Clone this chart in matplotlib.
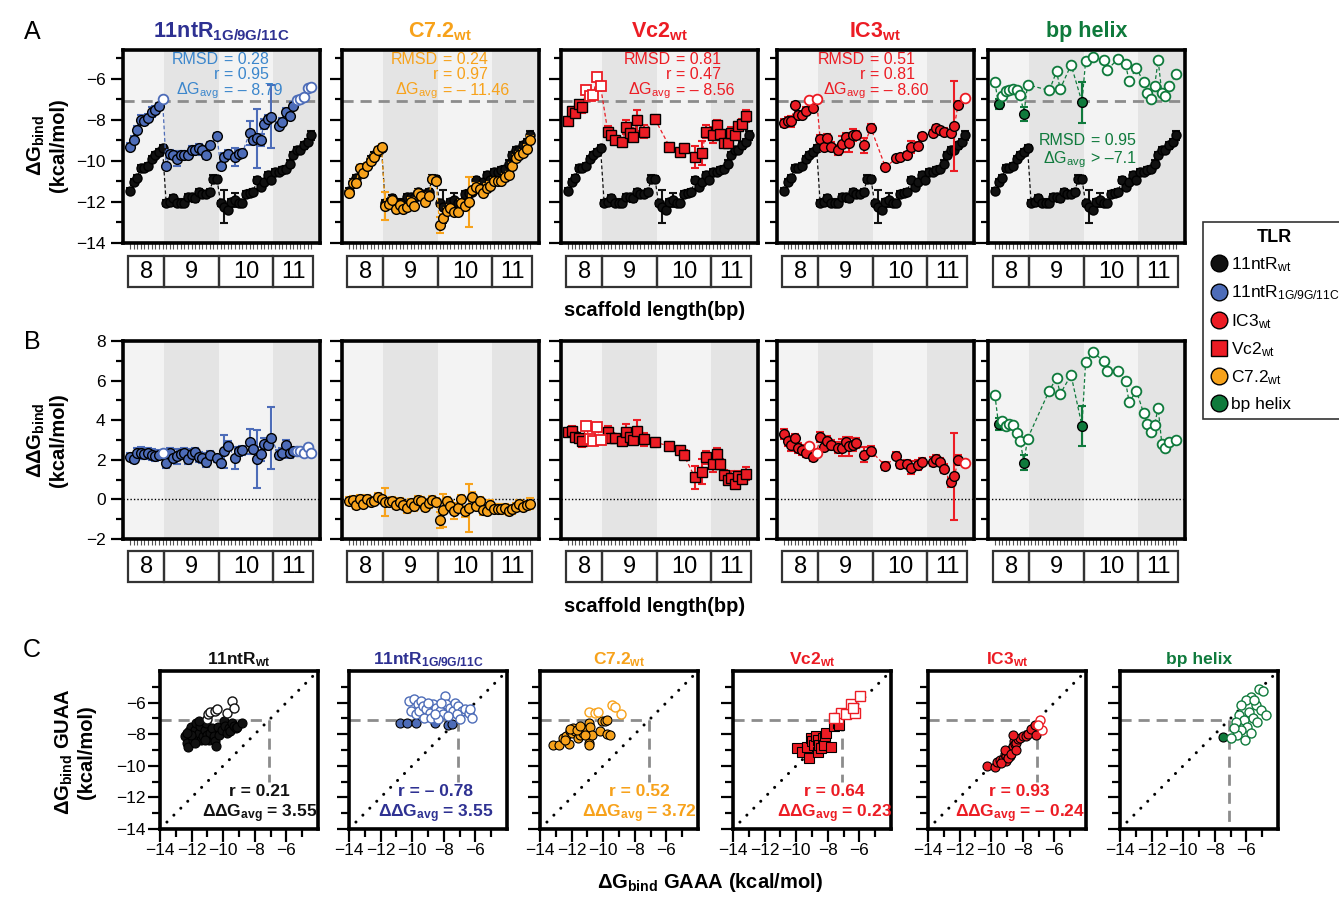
import numpy as np
import matplotlib
matplotlib.use('Agg')
import matplotlib.pyplot as plt
from matplotlib.patches import Rectangle
from matplotlib.lines import Line2D

plt.rcParams['font.family'] = ['Liberation Sans', 'DejaVu Sans']
plt.rcParams['mathtext.fontset'] = 'custom'
plt.rcParams['mathtext.rm'] = 'Liberation Sans'
plt.rcParams['mathtext.it'] = 'Liberation Sans:italic'
plt.rcParams['mathtext.bf'] = 'Liberation Sans:bold'

nan = np.nan
THRESH = -7.1

# ---------------- data: panel A (dG_bind, GAAA) per scaffold variant ----------------
scaffold_lengths = ['8', '9', '10', '11']
variants_per_length = [10, 15, 15, 11]

dG_11ntR_wt = [
    -11.46, -11.02, -10.83, -10.35, -10.35, -10.27, -9.89, -9.73, -9.57, -9.36,
    -12.07, -11.99, -11.83, -12.07, -12.03, -12.07, -11.78, -11.78, -11.83, -11.50, -11.60, -11.60, -11.50, -10.86, -10.86,
    -12.07, -12.24, -12.37, -11.99, -11.90, -12.07, -12.07, -11.60, -11.57, -11.50, -10.94, -11.27, -11.02, -10.70, -10.94,
    -10.54, -10.54, -10.46, -10.38, -10.13, -9.73, -9.49, -9.46, -9.25, -9.10, -8.76]
err_11ntR_wt = [
    .12, .15, .15, .15, .15, .15, .15, .15, .15, .15,
    .15, .12, .15, .15, .15, .12, .15, .15, .15, .15, .15, .15, .15, .15, .12,
    .12, .80, .15, .15, .35, .15, .15, .15, .15, .15, .15, .15, .15, .15, .15,
    .15, .15, .15, .15, .15, .15, .15, .15, .15, .15, .20]

dG_11ntR_mut = [
    -9.30, -8.96, -8.49, -8.00, -8.04, -7.92, -7.63, -7.52, -7.31, -7.00,
    -10.25, -9.65, -9.73, -9.89, -9.73, -9.73, -9.73, -9.49, -9.46, -9.36, -9.49, -9.73, -9.25, nan, -8.79,
    -10.25, -9.81, -9.65, nan, -9.81, -9.65, -9.60, nan, -8.65, -8.97, -8.90, -8.97, -8.20, -7.95, -7.84,
    nan, -8.28, -8.12, -7.63, -7.80, -7.31, -7.05, -7.00, -6.90, -6.45, -6.42]
err_11ntR_mut = [
    .15, .15, .20, .25, .20, .20, .25, .20, .15, 0,
    .15, .20, .20, .35, .20, .20, .20, .20, .20, .20, .20, .20, .15, 0, .15,
    .15, .20, .20, 0, .45, .20, .20, 0, .60, .20, 1.45, .30, .25, .20, 1.55,
    0, .15, .20, .20, .20, .20, 0, 0, 0, 0, 0]

dG_C72 = [
    -11.55, -11.06, -11.09, -10.33, -10.57, -10.24, -10.03, -9.82, -9.46, -9.33,
    -12.20, -12.10, -11.90, -12.36, -12.15, -12.36, -12.23, -11.98, -12.18, -11.55, -11.70, -11.98, -11.70, -10.90, -11.00,
    -13.12, -12.80, -12.44, -12.30, -12.50, -12.48, -12.06, -12.20, -12.00, -11.40, -11.25, -11.37, -11.58, -11.30, -11.20,
    -11.00, -11.00, -10.97, -10.80, -10.70, -10.24, -9.87, -9.71, -9.63, -9.40, -8.98]
err_C72 = [
    .15, .15, .15, .15, .15, .15, .15, .15, .15, .15,
    .70, .15, .15, .15, .15, .15, .15, .15, .15, .15, .15, .15, .15, .15, .15,
    .40, .20, .15, .15, .15, .15, .15, .25, 1.20, .20, .15, .15, .15, .15, .15,
    .15, .15, .15, .15, .15, .15, .15, .15, .15, .15, .20]

dG_Vc2 = [
    -8.08, -7.56, -7.67, -7.24, -7.38, -6.57, -6.86, -6.78, -5.92, -6.37,
    nan, -8.57, -8.73, -8.98, nan, -9.10, -8.36, -8.65, -8.85, -8.03, nan, -8.57, nan, nan, -7.97,
    nan, nan, nan, -9.30, nan, nan, -9.59, -9.38, nan, nan, -9.82, nan, -9.62, -8.57, nan,
    -8.73, -8.24, -8.68, -9.14, -9.14, -8.63, -8.73, -8.29, -8.20, -7.80, nan]
err_Vc2 = [
    .15, .20, .20, .15, .30, 0, 0, 0, 0, 0,
    0, .25, .20, .15, 0, .20, .35, .25, .20, .50, 0, .30, 0, 0, .20,
    0, 0, 0, .15, 0, 0, .15, .20, 0, 0, .55, 0, .60, .30, 0,
    .40, .25, .20, .20, .15, .30, .20, .20, .25, .30, 0]

dG_IC3 = [
    -8.16, -8.05, -8.08, -7.27, -7.76, -7.76, -7.55, -7.05, -7.43, -7.00,
    -8.94, -9.33, -8.89, -9.30, nan, -9.46, -9.17, -8.86, -9.14, -8.73, -8.73, nan, -9.25, nan, -8.41,
    nan, nan, nan, -10.31, nan, nan, -9.87, -9.82, nan, -9.71, -9.33, nan, -9.27, -8.81, nan,
    nan, -8.63, -8.41, -8.50, -8.57, nan, -8.63, -8.30, -7.27, nan, -6.94]
err_IC3 = [
    .20, .20, .25, .15, .20, .20, .15, 0, .15, 0,
    .20, .20, .20, .20, 0, .25, .40, .20, .45, .30, .20, 0, .35, 0, .20,
    0, 0, 0, .15, 0, 0, .10, .10, 0, .15, .30, 0, .20, .15, 0,
    0, .15, .15, .15, .15, 0, .15, 2.20, .20, 0, 0]

dG_helix = [
    -6.18, -7.22, -6.86, -6.62, -6.54, -6.50, -6.54, -6.78, -7.71, -6.29,
    nan, nan, nan, nan, nan, -6.57, nan, -5.64, -6.50, nan, nan, -5.32, nan, nan, -7.14,
    -5.15, nan, -4.95, nan, nan, -5.07, -5.56, nan, nan, -5.02, nan, -5.29, -6.11, nan, -5.46,
    nan, -6.18, -6.67, -6.99, -6.37, -5.11, -6.67, -6.86, -6.37, nan, -5.75]
err_helix = [
    0, .25, 0, 0, 0, 0, 0, 0, .35, 0,
    0, 0, 0, 0, 0, 0, 0, 0, 0, 0, 0, 0, 0, 0, 1.0,
    0, 0, 0, 0, 0, 0, 0, 0, 0, 0, 0, 0, 0, 0, 0,
    0, 0, 0, 0, 0, 0, 0, 0, 0, 0, 0]

# ---------------- data: panel C (GUAA vs GAAA) ----------------
C_wt_gaaa = [-12.41, -12.30, -12.20, -12.15, -12.03, -11.94, -11.88, -11.77, -11.73, -11.60,
             -11.52, -11.45, -11.39, -11.30, -11.18, -11.09, -11.03, -10.92, -10.82, -10.71,
             -10.60, -10.50, -10.45, -10.33, -10.28, -10.07, -9.97, -9.86, -9.75, -9.65,
             -9.54, -9.44, -9.33, -9.22, -9.12, -8.80, -12.03, -11.81, -11.56, -11.13, -12.30,
             -11.03, -10.96, -10.82, -10.50, -10.39, -9.75, -9.44, -9.33]
C_wt_guaa = [-8.14, -8.56, -8.78, -7.82, -7.54, -8.35, -8.03, -7.71, -7.28, -8.18,
             -7.92, -7.50, -8.35, -8.14, -7.71, -7.28, -8.03, -8.35, -7.92, -7.60,
             -8.14, -8.46, -8.74, -7.54, -8.03, -7.71, -7.18, -7.50, -7.92, -7.60,
             -7.82, -7.28, -7.45, -7.60, -7.54, -7.28, -8.03, -8.56, -7.18, -8.35, -7.92,
             -7.05, -6.75, -6.60, -6.53, -6.43, -6.68, -5.89, -6.36]

C_mut_gaaa = [-10.77, -10.34, -9.76, -8.58, -7.72, -7.51,
              -10.19, -9.87, -9.66, -9.44, -10.09, -9.76, -9.55, -9.33, -9.12, -8.90,
              -8.69, -8.47, -8.26, -8.04, -7.94, -7.83, -7.61, -7.40, -7.29, -7.08,
              -6.86, -6.65, -6.43, -6.32, -6.22, -9.23, -8.80, -8.37, -8.15, -8.58,
              -9.01, -7.18, -7.72, -6.97]
C_mut_guaa = [-7.26, -7.26, -7.28, -7.26, -7.43, -7.37,
              -5.89, -5.79, -6.11, -5.89, -6.53, -6.74, -6.53, -6.21, -6.42, -6.63,
              -6.11, -6.32, -6.53, -6.74, -5.58, -6.11, -6.32, -6.53, -6.00, -6.21,
              -6.53, -6.42, -6.63, -6.42, -6.95, -6.95, -6.95, -7.05, -6.00, -6.74,
              -6.00, -6.74, -6.84, -7.05]

C_C72_gaaa = [-13.18, -12.80, -12.54, -12.33, -12.15, -12.11, -12.00, -11.90, -11.79, -11.58,
              -11.47, -11.36, -11.25, -11.04, -10.93, -10.93, -10.87, -10.82, -10.72, -10.18,
              -10.07, -9.86, -9.75, -9.75, -9.54, -12.11, -11.68, -11.15, -12.43, -11.47,
              -10.87, -10.50, -10.35, -9.43, -9.28, -8.89]
C_C72_guaa = [-8.67, -8.67, -8.24, -8.14, -8.63, -7.82, -7.92, -7.60, -7.82, -8.24,
              -8.03, -7.60, -7.92, -7.71, -7.28, -8.56, -8.67, -7.56, -8.03, -7.82,
              -7.18, -7.18, -7.13, -7.99, -8.03, -7.65, -7.71, -8.07, -8.35, -7.50,
              -6.58, -6.64, -6.58, -6.15, -6.26, -6.71]

C_Vc2_gaaa = [-9.92, -9.61, -9.29, -9.18, -9.07, -8.97, -8.86, -8.76, -8.65, -8.65,
              -8.54, -8.44, -8.33, -8.22, -8.16, -8.12, -7.80, -7.59, -7.38, -7.27,
              -7.38, -7.16, -6.85, -6.53, -6.31, -5.95, -7.59, -6.42]
C_Vc2_guaa = [-8.88, -9.10, -8.78, -9.53, -8.24, -8.46, -8.67, -8.14, -8.35, -9.10,
              -8.67, -8.88, -8.24, -8.67, -8.14, -7.92, -8.78, -7.50, -7.28, -7.39,
              -6.96, -6.64, -6.75, -6.11, -6.64, -5.57, -6.96, -6.32]

C_IC3_gaaa = [-10.28, -9.79, -9.64, -9.47, -9.26, -9.15, -9.04, -9.04, -8.94, -8.83,
              -8.83, -8.72, -8.62, -8.57, -8.51, -8.40, -8.30, -8.19, -7.98, -7.77,
              -7.66, -7.45, -7.23, -7.17, -9.15, -8.62, -9.36, -8.94, -8.72, -8.40,
              -6.91, -6.81, -7.02]
C_IC3_guaa = [-10.03, -10.07, -9.77, -9.64, -9.56, -9.28, -9.39, -9.71, -9.18, -9.39,
              -8.97, -8.97, -8.75, -8.44, -8.65, -8.54, -8.33, -8.22, -8.12, -8.12,
              -8.01, -7.69, -7.44, -8.08, -8.97, -8.08, -9.81, -9.50, -9.28, -8.97,
              -7.10, -7.74, -7.44]

C_helix_gaaa = [-7.50, -5.21, -4.96, -5.72, -6.04, -6.36, -5.40, -5.08, -5.85, -6.48,
                -5.59, -6.17, -6.68, -5.34, -5.97, -6.36, -5.72, -6.61, -7.00, -6.10,
                -5.53, -4.76, -6.80]
C_helix_guaa = [-8.20, -5.17, -5.29, -5.62, -5.81, -6.13, -6.13, -6.45, -6.58, -6.77,
                -6.96, -7.09, -7.22, -7.22, -7.54, -7.73, -7.92, -8.05, -8.24, -8.37,
                -5.81, -6.77, -7.60]

RMSD = ['0.28', '0.24', '0.81', '0.51', '0.95']
r_A = ['0.95', '0.97', '0.47', '0.81']
dGavg_A = ['– 8.79', '– 11.46', '– 8.56', '– 8.60']
r_C = ['0.21', '– 0.78', '0.52', '0.64', '0.93']
ddGavg_C = ['3.55', '3.55', '3.72', '0.23', '– 0.24']

# ---------------- styling ----------------
BLACK = '#111111'
BLUE = '#4d6cb8'
BLUE_TXT = '#3b86cc'
NAVY = '#2e3192'
ORANGE = '#f7a21b'
RED = '#ec1c24'
GREEN = '#0f7a3c'

W, H = 1339, 899
fig = plt.figure(figsize=(W / 100, H / 100), dpi=100)


def rect(x0, y0, x1, y1):
    return [x0 / W, 1 - y1 / H, (x1 - x0) / W, (y1 - y0) / H]


xpos = np.arange(len(dG_11ntR_wt))
edges = np.concatenate([[-0.5], np.cumsum(variants_per_length) - 0.5])
XLIM = (-1.9, 52.4)
A_LEFT = [123, 342, 561, 777, 988]
A_W = 197


def setup_scaffold_axis(ax, ylim, major, minor, labels):
    ax.set_xlim(XLIM)
    ax.set_ylim(ylim)
    shades = ['#f3f3f3', '#e4e4e4', '#f3f3f3', '#e4e4e4']
    b = [XLIM[0]] + list(edges[1:-1]) + [XLIM[1]]
    for i in range(4):
        ax.axvspan(b[i], b[i + 1], color=shades[i], zorder=0, lw=0)
    ax.set_xticks(xpos)
    ax.set_xticklabels([])
    ax.tick_params(axis='x', length=4, width=0.8, color='#555555', direction='out')
    ax.set_yticks(major)
    ax.set_yticks(minor, minor=True)
    ax.tick_params(axis='y', which='major', length=9, width=1.6, direction='out', labelsize=12.5)
    ax.tick_params(axis='y', which='minor', length=5, width=1.6, direction='out')
    if not labels:
        ax.set_yticklabels([])
    for s in ax.spines.values():
        s.set_linewidth(2.6)


def scaffold_boxes(x0, y0, x1, y1):
    bx = fig.add_axes(rect(x0, y0, x1, y1))
    bx.set_xlim(XLIM)
    bx.set_ylim(0, 1)
    bx.axis('off')
    for i, lab in enumerate(scaffold_lengths):
        bx.add_patch(Rectangle((edges[i], 0.02), edges[i + 1] - edges[i], 0.96, fill=False,
                               ec='#333333', lw=1.6, clip_on=False))
        bx.text((edges[i] + edges[i + 1]) / 2, 0.47, lab, ha='center', va='center', fontsize=17)


def draw_series(ax, y, err, open_mask, color, marker, ecolor=None, ms=7, z=4, mec='black'):
    y = np.asarray(y, float)
    err = np.asarray(err, float)
    m = ~np.isnan(y)
    ax.plot(xpos[m], y[m], ls=(0, (3, 2)), lw=0.9, color=color, zorder=z)
    e = m & (err > 0)
    ax.errorbar(xpos[e], y[e], yerr=err[e], fmt='none', ecolor=ecolor or color,
                elinewidth=1.5, capsize=3.2, capthick=1.5, zorder=z)
    f = m & ~open_mask
    o = m & open_mask
    ax.plot(xpos[f], y[f], ls='none', marker=marker, ms=ms, mfc=color, mec=mec, mew=1.0, zorder=z + 0.5)
    ax.plot(xpos[o], y[o], ls='none', marker=marker, ms=ms, mfc='white', mec=color, mew=1.3, zorder=z + 0.5)


series = [
    (dG_11ntR_mut, err_11ntR_mut, BLUE, 'o', '11ntR$_\\mathbf{1G/9G/11C}$', NAVY, BLUE_TXT),
    (dG_C72, err_C72, ORANGE, 'o', 'C7.2$_\\mathbf{wt}$', ORANGE, ORANGE),
    (dG_Vc2, err_Vc2, RED, 's', 'Vc2$_\\mathbf{wt}$', RED, RED),
    (dG_IC3, err_IC3, RED, 'o', 'IC3$_\\mathbf{wt}$', RED, RED),
    (dG_helix, err_helix, GREEN, 'o', 'bp helix', GREEN, GREEN),
]

wt = np.asarray(dG_11ntR_wt, float)
wt_err = np.asarray(err_11ntR_wt, float)
no_open = np.zeros(len(wt), bool)

eq_x = [0.50, 0.50, 0.57, 0.46]
for i, (y, err, col, mk, title, tcol, txtcol) in enumerate(series):
    y = np.asarray(y, float)
    err = np.asarray(err, float)
    is_open = np.nan_to_num(y, nan=-99) > THRESH
    left = A_LEFT[i]
    # ---- panel A ----
    ax = fig.add_axes(rect(left, 50, left + A_W, 243))
    setup_scaffold_axis(ax, (-14, -4.6), np.arange(-14, -5, 2), np.arange(-14, -4, 1), i == 0)
    ax.axhline(THRESH, color='#8c8c8c', lw=2, ls=(0, (4, 2.5)), zorder=1)
    draw_series(ax, wt, wt_err, no_open, BLACK, 'o', ecolor=BLACK, ms=6.5, z=2)
    draw_series(ax, y, err, is_open, col, mk, ms=7, z=4)
    ax.set_title(title, color=tcol, fontsize=15.5, fontweight='bold', pad=9)
    if i < 4:
        labs = ['RMSD', 'r', 'ΔG$_\\mathrm{avg}$']
        vals = ['= ' + RMSD[i], '= ' + r_A[i], '= ' + dGavg_A[i]]
        ys = [0.93, 0.848, 0.768]
        xe = eq_x[i]
    else:
        labs = ['RMSD', 'ΔG$_\\mathrm{avg}$']
        vals = ['= ' + RMSD[i], '> –7.1']
        ys = [0.508, 0.415]
        xe = 0.51
    for yy, lb, vv in zip(ys, labs, vals):
        ax.text(xe - 0.012, yy, lb, transform=ax.transAxes, ha='right', va='baseline',
                color=txtcol, fontsize=11.5, zorder=7)
        ax.text(xe + 0.012, yy, vv, transform=ax.transAxes, ha='left', va='baseline',
                color=txtcol, fontsize=11.5, zorder=7)
    scaffold_boxes(left, 255, left + A_W, 288)

    # ---- panel B ----
    bx = fig.add_axes(rect(left, 341, left + A_W, 539))
    setup_scaffold_axis(bx, (-2, 8), np.arange(-2, 9, 2), np.arange(-2, 9, 1), i == 0)
    bx.axhline(0, color='black', lw=1, ls=(0, (1, 1.5)), zorder=1)
    ddg = y - wt
    derr = np.where(err > 0, np.sqrt(err ** 2 + wt_err ** 2), 0)
    draw_series(bx, ddg, derr, is_open, col, mk, ms=7, z=4)
    scaffold_boxes(left, 550, left + A_W, 583)

fig.text(655 / W, 1 - 311 / H, 'scaffold length(bp)', ha='center', va='center', fontsize=14.5, fontweight='bold')
fig.text(655 / W, 1 - 607 / H, 'scaffold length(bp)', ha='center', va='center', fontsize=14.5, fontweight='bold')
fig.text(47 / W, 1 - 145 / H, 'ΔG$_\\mathbf{bind}$\n(kcal/mol)', rotation=90, ha='center', va='center',
         fontsize=14.5, fontweight='bold', linespacing=1.1)
fig.text(47 / W, 1 - 440 / H, 'ΔΔG$_\\mathbf{bind}$\n(kcal/mol)', rotation=90, ha='center', va='center',
         fontsize=14.5, fontweight='bold', linespacing=1.1)

# ---------------- panel C ----------------
C_LEFT = [160, 349, 540, 733, 928, 1120]
C_W = 158
c_sets = [
    (C_wt_gaaa, C_wt_guaa, BLACK, 'o', '11ntR$_\\mathbf{wt}$', BLACK, BLACK),
    (C_mut_gaaa, C_mut_guaa, BLUE, 'o', '11ntR$_\\mathbf{1G/9G/11C}$', NAVY, NAVY),
    (C_C72_gaaa, C_C72_guaa, ORANGE, 'o', 'C7.2$_\\mathbf{wt}$', ORANGE, ORANGE),
    (C_Vc2_gaaa, C_Vc2_guaa, RED, 's', 'Vc2$_\\mathbf{wt}$', RED, RED),
    (C_IC3_gaaa, C_IC3_guaa, RED, 'o', 'IC3$_\\mathbf{wt}$', RED, RED),
    (C_helix_gaaa, C_helix_guaa, GREEN, 'o', 'bp helix', GREEN, GREEN),
]
c_txt_x = [0.63, 0.55, 0.63, 0.64, 0.58]
for i, (gx, gy, col, mk, title, tcol, txtcol) in enumerate(c_sets):
    gx = np.asarray(gx, float)
    gy = np.asarray(gy, float)
    left = C_LEFT[i]
    ax = fig.add_axes(rect(left, 671, left + C_W, 829))
    ax.set_xlim(-14, -4)
    ax.set_ylim(-14, -4)
    ax.set_xticks(np.arange(-14, -5, 2))
    ax.set_xticks(np.arange(-14, -4, 1), minor=True)
    ax.set_yticks(np.arange(-14, -5, 2))
    ax.set_yticks(np.arange(-14, -4, 1), minor=True)
    ax.tick_params(which='major', length=9, width=1.6, direction='out', labelsize=12.5, pad=1)
    ax.tick_params(which='minor', length=6, width=1.6, direction='out')
    if i > 0:
        ax.set_yticklabels([])
    for s in ax.spines.values():
        s.set_linewidth(2.6)
    ax.plot([-14, -4], [-14, -4], color='black', lw=2.2, ls=(0, (0.01, 3.2)),
            dash_capstyle='round', zorder=2)
    ax.plot([-14, THRESH], [THRESH, THRESH], color='#8c8c8c', lw=2, ls=(0, (4, 2.5)), zorder=1)
    v_end = -11.0 if i < 5 else -14
    ax.plot([THRESH, THRESH], [THRESH, v_end], color='#8c8c8c', lw=2, ls=(0, (4, 2.5)), zorder=1)
    op = (gx > THRESH) | (gy > THRESH)
    ax.plot(gx[~op], gy[~op], ls='none', marker=mk, ms=6.5, mfc=col, mec='black', mew=0.8, zorder=4)
    ax.plot(gx[op], gy[op], ls='none', marker=mk, ms=6.5, mfc='white', mec=col, mew=1.0, zorder=4)
    ax.set_title(title, color=tcol, fontsize=12.5, fontweight='bold', pad=5)
    if i < 5:
        ax.text(c_txt_x[i], 0.025, 'r = ' + r_C[i] + '\nΔΔG$_\\mathbf{avg}$ = ' + ddGavg_C[i],
                transform=ax.transAxes, ha='center', va='bottom', color=txtcol, fontsize=12.5,
                fontweight='bold', linespacing=1.2, zorder=6)

fig.text(710 / W, 1 - 883 / H, 'ΔG$_\\mathbf{bind}$ GAAA (kcal/mol)', ha='center', va='center',
         fontsize=14.5, fontweight='bold')
fig.text(75 / W, 1 - 752 / H, 'ΔG$_\\mathbf{bind}$ GUAA\n(kcal/mol)', rotation=90, ha='center',
         va='center', fontsize=14.5, fontweight='bold', linespacing=1.1)

# panel letters
for lab, yy in [('A', 32), ('B', 342), ('C', 650)]:
    fig.text(32 / W, 1 - yy / H, lab, ha='center', va='center', fontsize=18)

# legend
handles = [
    Line2D([], [], ls='none', marker='o', ms=12, mfc=BLACK, mec='black'),
    Line2D([], [], ls='none', marker='o', ms=12, mfc=BLUE, mec='black'),
    Line2D([], [], ls='none', marker='o', ms=12, mfc=RED, mec='black'),
    Line2D([], [], ls='none', marker='s', ms=12, mfc=RED, mec='black'),
    Line2D([], [], ls='none', marker='o', ms=12, mfc=ORANGE, mec='black'),
    Line2D([], [], ls='none', marker='o', ms=12, mfc=GREEN, mec='black'),
]
labels = ['11ntR$_\\mathrm{wt}$', '11ntR$_\\mathrm{1G/9G/11C}$', 'IC3$_\\mathrm{wt}$',
          'Vc2$_\\mathrm{wt}$', 'C7.2$_\\mathrm{wt}$', 'bp helix']
leg = fig.legend(handles, labels, loc='upper left', bbox_to_anchor=(1203 / W, 1 - 222 / H),
                 frameon=True, fancybox=False, edgecolor='black', fontsize=12.5, title='TLR',
                 title_fontproperties={'weight': 'bold', 'size': 13}, handletextpad=0.2,
                 handlelength=1.0, labelspacing=0.55, borderpad=0.4, borderaxespad=0)
leg.get_frame().set_linewidth(1.2)

fig.savefig('out.png', dpi=100)
